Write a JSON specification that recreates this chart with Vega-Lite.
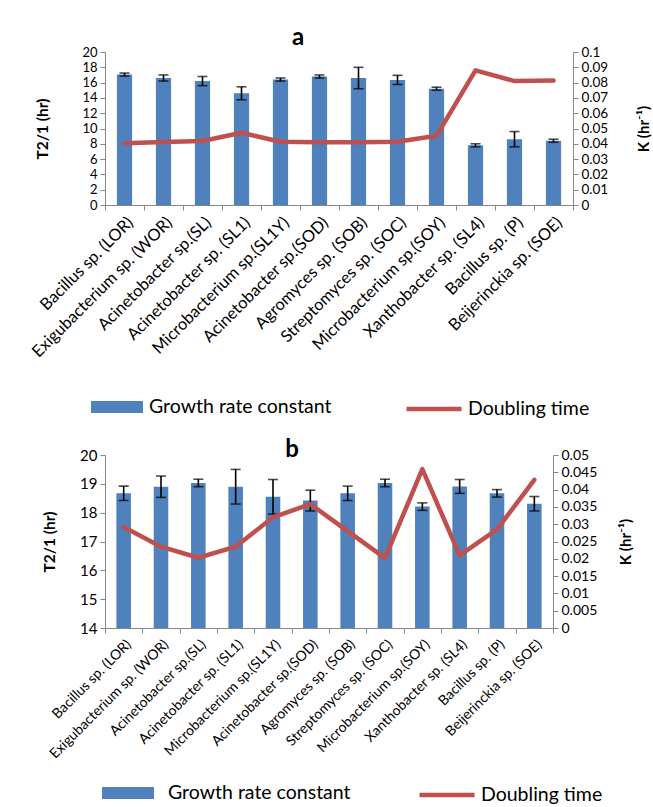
{
  "$schema": "https://vega.github.io/schema/vega-lite/v6.json",
  "padding": {"left": 29, "top": 26, "right": 5, "bottom": 5},
  "background": "white",
  "datasets": {
    "a": [
      {"strain": "Bacillus sp. (LOR)", "T": 17.05, "err": 0.2, "K": 0.0404},
      {"strain": "Exigubacterium sp. (WOR)", "T": 16.6, "err": 0.4, "K": 0.0412},
      {"strain": "Acinetobacter sp.(SL)", "T": 16.2, "err": 0.6, "K": 0.0418},
      {"strain": "Acinetobacter sp. (SL1)", "T": 14.6, "err": 0.85, "K": 0.0472},
      {"strain": "Microbacterium sp.(SL1Y)", "T": 16.4, "err": 0.2, "K": 0.0413},
      {"strain": "Acinetobacter sp.(SOD)", "T": 16.8, "err": 0.2, "K": 0.041},
      {"strain": "Agromyces sp. (SOB)", "T": 16.6, "err": 1.4, "K": 0.041},
      {"strain": "Streptomyces sp. (SOC)", "T": 16.35, "err": 0.6, "K": 0.0413},
      {"strain": "Microbacterium sp.(SOY)", "T": 15.2, "err": 0.2, "K": 0.0452},
      {"strain": "Xanthobacter sp. (SL4)", "T": 7.8, "err": 0.2, "K": 0.088},
      {"strain": "Bacillus sp. (P)", "T": 8.6, "err": 1.0, "K": 0.081},
      {"strain": "Beijerinckia sp. (SOE)", "T": 8.4, "err": 0.2, "K": 0.0813}
    ],
    "b": [
      {"strain": "Bacillus sp. (LOR)", "T": 18.67, "err": 0.25, "K": 0.0292},
      {"strain": "Exigubacterium sp. (WOR)", "T": 18.9, "err": 0.37, "K": 0.0235},
      {"strain": "Acinetobacter sp.(SL)", "T": 19.03, "err": 0.13, "K": 0.0203},
      {"strain": "Acinetobacter sp. (SL1)", "T": 18.9, "err": 0.6, "K": 0.0235},
      {"strain": "Microbacterium sp.(SL1Y)", "T": 18.55, "err": 0.6, "K": 0.032},
      {"strain": "Acinetobacter sp.(SOD)", "T": 18.42, "err": 0.36, "K": 0.0358},
      {"strain": "Agromyces sp. (SOB)", "T": 18.67, "err": 0.25, "K": 0.028},
      {"strain": "Streptomyces sp. (SOC)", "T": 19.03, "err": 0.13, "K": 0.0202},
      {"strain": "Microbacterium sp.(SOY)", "T": 18.21, "err": 0.13, "K": 0.0459},
      {"strain": "Xanthobacter sp. (SL4)", "T": 18.91, "err": 0.24, "K": 0.021},
      {"strain": "Bacillus sp. (P)", "T": 18.67, "err": 0.13, "K": 0.0285},
      {"strain": "Beijerinckia sp. (SOE)", "T": 18.31, "err": 0.25, "K": 0.0428}
    ]
  },
  "bounds": "flush",
  "spacing": 250,
  "resolve": {
    "scale": {"fill": "independent", "stroke": "independent"},
    "legend": {"fill": "independent", "stroke": "independent"}
  },
  "vconcat": [
    {
      "width": 468,
      "height": 153,
      "data": {"name": "a"},
      "title": {"text": "a", "fontSize": 24, "fontWeight": "bold", "dx": -41, "offset": -5},
      "layer": [
        {
          "layer": [
            {
              "mark": {"type": "bar", "width": {"band": 0.39}},
              "encoding": {
                "x": {"field": "strain", "type": "nominal", "sort": null, "title": null,
                  "scale": {"paddingInner": 0, "paddingOuter": 0},
                  "axis": {"labelAngle": -45, "tickBand": "extent", "labelFontSize": 16.5, "labelLimit": 300, "labelPadding": 4}},
                "y": {"field": "T", "type": "quantitative", "title": "T2/1 (hr)",
                  "scale": {"domain": [0, 20]},
                  "axis": {"values": [0, 2, 4, 6, 8, 10, 12, 14, 16, 18, 20], "labelFontSize": 13, "titlePadding": 31, "titleFontSize": 15.5}},
                "fill": {"datum": "Growth rate constant", "scale": {"range": ["#4f81bd"]},
                  "legend": {"orient": "none", "legendX": -14, "legendY": 329, "title": null,
                    "symbolType": "M-1,-0.23H1V0.23H-1Z", "symbolSize": 2704, "symbolStrokeWidth": 0,
                    "labelFontSize": 19.5, "labelOffset": 6, "labelLimit": 400, "padding": 0}}
              }
            },
            {
              "mark": {"type": "errorbar", "color": "black", "ticks": {"size": 10, "thickness": 1.6}, "rule": {"strokeWidth": 1.6}},
              "encoding": {
                "x": {"field": "strain", "type": "nominal", "sort": null, "title": null},
                "y": {"field": "T", "type": "quantitative", "title": "T2/1 (hr)", "scale": {"domain": [0, 20]},
                  "axis": {"values": [0, 2, 4, 6, 8, 10, 12, 14, 16, 18, 20], "labelFontSize": 13, "titlePadding": 31, "titleFontSize": 15.5}},
                "yError": {"field": "err"}
              }
            }
          ]
        },
        {
          "mark": {"type": "line", "strokeWidth": 4.5, "strokeCap": "round", "strokeJoin": "round"},
          "encoding": {
            "x": {"field": "strain", "type": "nominal", "sort": null, "title": null},
            "y": {"field": "K", "type": "quantitative", "title": "K (hr⁻¹)",
              "scale": {"domain": [0, 0.1]},
              "axis": {"orient": "right", "values": [0, 0.01, 0.02, 0.03, 0.04, 0.05, 0.06, 0.07, 0.08, 0.09, 0.1], "format": "~g", "labelFontSize": 13.5, "titleAngle": -90, "titleBaseline": "top", "titlePadding": 29, "titleFontSize": 15}},
            "stroke": {"datum": "Doubling time", "scale": {"range": ["#c0504d"]},
              "legend": {"orient": "none", "legendX": 299, "legendY": 327, "title": null,
                "symbolType": "stroke", "symbolSize": 3025, "symbolStrokeWidth": 4.5,
                "labelFontSize": 19.5, "labelOffset": 4, "labelLimit": 400, "padding": 0}}
          }
        }
      ],
      "resolve": {"scale": {"y": "independent"}}
    },
    {
      "width": 448,
      "height": 173,
      "data": {"name": "b"},
      "title": {"text": "b", "fontSize": 24, "fontWeight": "bold", "dx": -37, "offset": -14},
      "layer": [
        {
          "layer": [
            {
              "mark": {"type": "bar", "width": {"band": 0.39}},
              "encoding": {
                "x": {"field": "strain", "type": "nominal", "sort": null, "title": null,
                  "scale": {"paddingInner": 0, "paddingOuter": 0},
                  "axis": {"labelAngle": -45, "tickBand": "extent", "labelFontSize": 14, "labelLimit": 300, "labelPadding": 4}},
                "y": {"field": "T", "type": "quantitative", "title": "T2/1 (hr)",
                  "scale": {"domain": [14, 20], "zero": false},
                  "axis": {"values": [14, 15, 16, 17, 18, 19, 20], "labelFontSize": 15, "titlePadding": 22, "titleFontSize": 15.5}},
                "y2": {"datum": 14},
                "fill": {"datum": "Growth rate constant", "scale": {"range": ["#4f81bd"]},
                  "legend": {"orient": "none", "legendX": -3, "legendY": 312, "title": null,
                    "symbolType": "M-1,-0.23H1V0.23H-1Z", "symbolSize": 2704, "symbolStrokeWidth": 0,
                    "labelFontSize": 19.5, "labelOffset": 14, "labelLimit": 400, "padding": 0}}
              }
            },
            {
              "mark": {"type": "errorbar", "color": "black", "ticks": {"size": 10, "thickness": 1.6}, "rule": {"strokeWidth": 1.6}},
              "encoding": {
                "x": {"field": "strain", "type": "nominal", "sort": null, "title": null},
                "y": {"field": "T", "type": "quantitative", "title": "T2/1 (hr)", "scale": {"domain": [14, 20], "zero": false},
                  "axis": {"values": [14, 15, 16, 17, 18, 19, 20], "labelFontSize": 15, "titlePadding": 22, "titleFontSize": 15.5}},
                "yError": {"field": "err"}
              }
            }
          ]
        },
        {
          "mark": {"type": "line", "strokeWidth": 4.5, "strokeCap": "round", "strokeJoin": "round"},
          "encoding": {
            "x": {"field": "strain", "type": "nominal", "sort": null, "title": null},
            "y": {"field": "K", "type": "quantitative", "title": "K (hr⁻¹)",
              "scale": {"domain": [0, 0.05]},
              "axis": {"orient": "right", "values": [0, 0.005, 0.01, 0.015, 0.02, 0.025, 0.03, 0.035, 0.04, 0.045, 0.05], "format": "~g", "labelFontSize": 14, "titleAngle": -90, "titleBaseline": "top", "titlePadding": 22, "titleFontSize": 15}},
            "stroke": {"datum": "Doubling time", "scale": {"range": ["#c0504d"]},
              "legend": {"orient": "none", "legendX": 312, "legendY": 310, "title": null,
                "symbolType": "stroke", "symbolSize": 3025, "symbolStrokeWidth": 4.5,
                "labelFontSize": 19.5, "labelOffset": 4, "labelLimit": 400, "padding": 0}}
          }
        }
      ],
      "resolve": {"scale": {"y": "independent"}}
    }
  ],
  "config": {
    "font": "Lato",
    "view": {"stroke": null},
    "axis": {
      "grid": false,
      "domainColor": "#868686",
      "tickColor": "#868686",
      "tickSize": 5,
      "labelColor": "black",
      "labelOverlap": false,
      "titleColor": "black",
      "titleFontSize": 14,
      "titleFontWeight": "bold",
      "labelPadding": 3
    },
    "legend": {"labelColor": "black", "labelFont": "Lato"},
    "title": {"color": "black"}
  }
}
